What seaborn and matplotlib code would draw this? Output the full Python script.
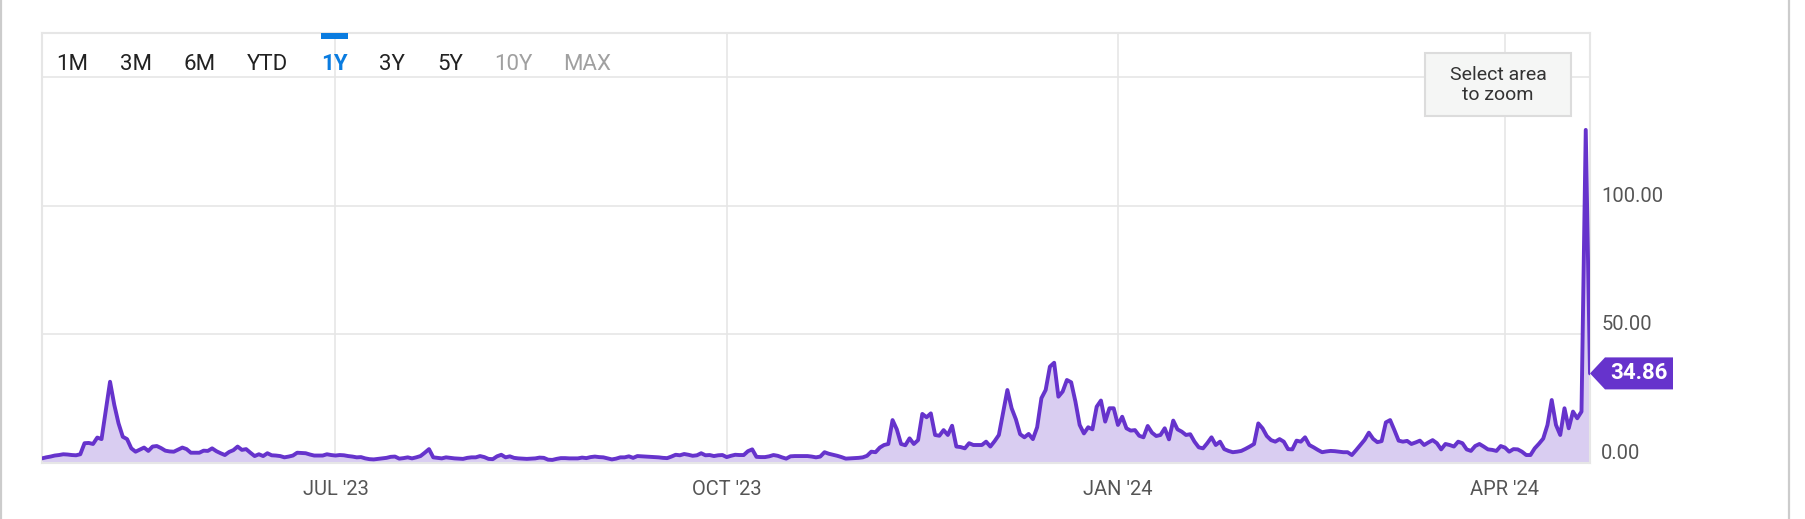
import pandas as pd
import numpy as np
import matplotlib
matplotlib.use('Agg')
import matplotlib.pyplot as plt
import matplotlib.dates as mdates
from matplotlib.patches import Rectangle, Polygon
from matplotlib.lines import Line2D
from matplotlib.transforms import IdentityTransform
import seaborn as sns


# daily values, one list per month (first point 2023-04-23, last 2024-04-21)
START_DATE = '2023-04-23'
apr_2023 = [1.8, 2.2, 2.5, 2.9, 3.1, 3.4, 3.3, 3.1]
may_2023 = [3.0, 3.4, 7.7, 7.8, 7.4, 9.9, 9.3, 20.5, 31.6, 22.6, 15.4, 10.2, 9.3, 5.7, 4.4, 5.2,
            6.0, 4.7, 6.4, 6.6, 5.8, 4.8, 4.5, 4.4, 5.2, 6.0, 5.4, 4.0, 4.0, 4.0, 4.8]
jun_2023 = [4.7, 5.7, 4.6, 3.8, 3.1, 4.3, 5.0, 6.4, 5.1, 5.4, 4.0, 2.7, 3.4, 2.7, 3.8, 3.0,
            2.9, 2.7, 2.2, 2.5, 2.9, 4.0, 3.9, 3.8, 3.3, 2.9, 2.9, 2.9, 3.4, 3.1]
jul_2023 = [2.9, 3.1, 3.0, 2.7, 2.5, 2.2, 2.3, 1.8, 1.5, 1.4, 1.6, 1.8, 2.0, 2.4, 2.5, 1.7,
            1.9, 2.2, 1.8, 2.2, 2.7, 4.0, 5.4, 2.2, 2.0, 1.8, 2.2, 2.0, 1.8, 1.7, 1.6]
aug_2023 = [2.0, 2.2, 2.2, 2.7, 2.3, 1.6, 1.5, 2.6, 3.2, 2.2, 2.6, 2.0, 1.8, 1.7, 1.6, 1.7,
            1.8, 2.1, 2.0, 1.3, 1.2, 1.6, 1.9, 1.9, 1.8, 1.8, 1.8, 2.1, 1.9, 2.3, 2.5]
sep_2023 = [2.3, 2.2, 1.8, 1.4, 1.7, 2.2, 2.2, 2.6, 2.0, 2.7, 2.6, 2.5, 2.4, 2.3, 2.2, 2.0,
            1.9, 2.5, 3.2, 3.0, 3.5, 3.2, 2.8, 3.0, 3.8, 3.0, 3.1, 2.7, 3.0, 3.1]
oct_2023 = [2.3, 2.8, 3.2, 3.1, 3.1, 4.6, 5.3, 2.4, 2.3, 2.3, 2.6, 3.1, 2.8, 2.2, 1.7, 2.6,
            2.7, 2.7, 2.7, 2.7, 2.5, 2.2, 2.5, 4.2, 3.6, 3.2, 2.8, 2.3, 1.7, 1.8, 1.9]
nov_2023 = [2.0, 2.2, 2.8, 4.4, 4.2, 6.0, 7.0, 7.4, 16.7, 13.1, 7.4, 6.9, 9.6, 7.4, 8.9, 19.1,
            17.8, 19.3, 10.9, 10.6, 12.8, 10.9, 14.5, 6.4, 6.2, 5.7, 7.7, 7.0, 7.0, 7.0]
dec_2023 = [8.3, 6.4, 8.5, 10.9, 19.6, 28.4, 21.3, 17.0, 11.2, 10.0, 11.3, 9.3, 13.9, 25.2, 28.4, 37.5,
            39.0, 25.8, 27.8, 32.3, 31.4, 23.9, 14.8, 11.5, 13.9, 13.1, 21.9, 24.3, 16.1, 21.3, 21.3]
jan_2024 = [14.8, 18.0, 13.5, 12.6, 12.8, 10.6, 10.0, 14.4, 11.8, 10.5, 10.9, 13.5, 9.2, 16.5, 13.1, 12.2,
            10.9, 11.2, 8.3, 6.1, 5.7, 7.7, 10.0, 7.0, 8.3, 5.4, 4.7, 4.2, 4.4, 4.7, 5.5]
feb_2024 = [6.4, 7.4, 15.4, 13.5, 10.5, 8.9, 8.3, 9.3, 8.3, 5.4, 5.3, 8.7, 8.3, 10.0, 7.0, 6.1,
            5.1, 4.2, 4.5, 4.7, 4.6, 4.4, 4.2, 4.2, 3.1, 5.0, 7.0, 9.0, 11.8]
mar_2024 = [9.4, 8.1, 8.5, 15.8, 16.7, 12.8, 8.7, 8.3, 8.6, 7.4, 8.0, 8.7, 7.0, 8.0, 8.9, 7.7,
            5.3, 7.4, 7.0, 6.4, 8.3, 7.7, 5.3, 4.7, 6.6, 7.4, 6.4, 5.3, 5.1, 4.7, 6.6]
apr_2024 = [6.0, 4.4, 5.4, 5.3, 4.4, 3.1, 3.1, 5.7, 7.5, 9.5, 14.8, 24.5, 14.8, 10.9, 21.3, 13.5,
            20.0, 17.4, 20.0, 129.6, 34.86]

range_buttons = ['1M', '3M', '6M', 'YTD', '1Y', '3Y', '5Y', '10Y', 'MAX']
active_button = '1Y'
disabled_buttons = ['10Y', 'MAX']
x_tick_dates = ['2023-07-01', '2023-10-01', '2024-01-01', '2024-04-01']
x_tick_labels = ["JUL '23", "OCT '23", "JAN '24", "APR '24"]
y_ticks = [0, 50, 100, 150]
y_tick_labels = ['0.00', '50.00', '100.00', '']
zoom_hint = 'Select area\nto zoom'

# style
W, H = 1806, 519
LINE_COLOR = '#6633cc'
FILL_COLOR = '#d9cdf1'
GRID_COLOR = '#e6e6e6'
LABEL_COLOR = '#555555'
BUTTON_X = [72, 136, 200, 267, 334, 392, 450, 513, 587]


def fx(px):
    return px / W


def fy(py):
    return 1 - py / H


values = (apr_2023 + may_2023 + jun_2023 + jul_2023 + aug_2023 + sep_2023 + oct_2023 +
          nov_2023 + dec_2023 + jan_2024 + feb_2024 + mar_2024 + apr_2024)
df = pd.DataFrame({'date': pd.date_range(START_DATE, periods=len(values), freq='D'),
                   'value': values})

sns.set_style('white')
plt.rcParams['font.family'] = ['Roboto', 'DejaVu Sans']

fig = plt.figure(figsize=(W / 100, H / 100), dpi=100)
ax = fig.add_axes([fx(42), fy(463), 1548 / W, 430 / H])

ax.fill_between(df['date'], df['value'], 0, color=FILL_COLOR, lw=0, zorder=2)
sns.lineplot(data=df, x='date', y='value', ax=ax, color=LINE_COLOR, linewidth=2.8, zorder=3)

ax.set_xlim(df['date'].iloc[0], df['date'].iloc[-1])
ax.set_ylim(0, 167.3)
ax.set_xlabel('')
ax.set_ylabel('')

ax.set_xticks(pd.to_datetime(x_tick_dates), x_tick_labels)
ax.set_yticks(y_ticks, y_tick_labels)
ax.yaxis.tick_right()
ax.tick_params(axis='x', length=0, pad=12, labelsize=14.5, labelcolor=LABEL_COLOR)
ax.tick_params(axis='y', length=0, pad=8, labelsize=14.5, labelcolor=LABEL_COLOR)
plt.setp(ax.get_yticklabels(), va='bottom')
ax.grid(True, color=GRID_COLOR, linewidth=1.2, zorder=0)
ax.set_axisbelow(True)
for side in ax.spines.values():
    side.set_color(GRID_COLOR)
    side.set_linewidth(1.5)

# range selector
for name, bx in zip(range_buttons, BUTTON_X):
    color = '#222222'
    weight = 'normal'
    if name == active_button:
        color = '#0a7ce0'
        weight = 'bold'
        fig.add_artist(Rectangle((fx(bx - 13), fy(39)), 27 / W, 6 / H, transform=fig.transFigure,
                                 facecolor='#0a7ce0', edgecolor='none', zorder=5))
    elif name in disabled_buttons:
        color = '#a0a0a0'
    fig.text(fx(bx), fy(64), name, ha='center', va='center', fontsize=16,
             color=color, fontweight=weight, zorder=5)

# zoom hint box
fig.add_artist(Rectangle((fx(1425), fy(116)), 146 / W, 63 / H, transform=fig.transFigure,
                         facecolor='#f5f6f5', edgecolor='#dcdcdc', linewidth=1.5, zorder=5))
fig.text(fx(1498), fy(85), zoom_hint, ha='center', va='center', fontsize=14,
         color='#333333', linespacing=1.2, zorder=6)

# last value tag
last = df.iloc[-1]
tx, ty = ax.transData.transform((mdates.date2num(last['date']), last['value']))
tag = Polygon([(tx, ty), (tx + 15, ty + 16), (tx + 83, ty + 16), (tx + 83, ty - 16), (tx + 15, ty - 16)],
              closed=True, transform=IdentityTransform(), facecolor=LINE_COLOR, edgecolor='none',
              zorder=6, clip_on=False)
fig.add_artist(tag)
fig.text(tx + 49, ty, f"{last['value']:.2f}", transform=IdentityTransform(), ha='center',
         va='center', fontsize=16, fontweight='bold', color='white', zorder=7)

# card edges
for px in (1.5, 1789):
    fig.add_artist(Line2D([fx(px), fx(px)], [0, 1], transform=fig.transFigure,
                          color='#cccccc', linewidth=1.6))

fig.savefig('out.png', dpi=100, facecolor='white')
